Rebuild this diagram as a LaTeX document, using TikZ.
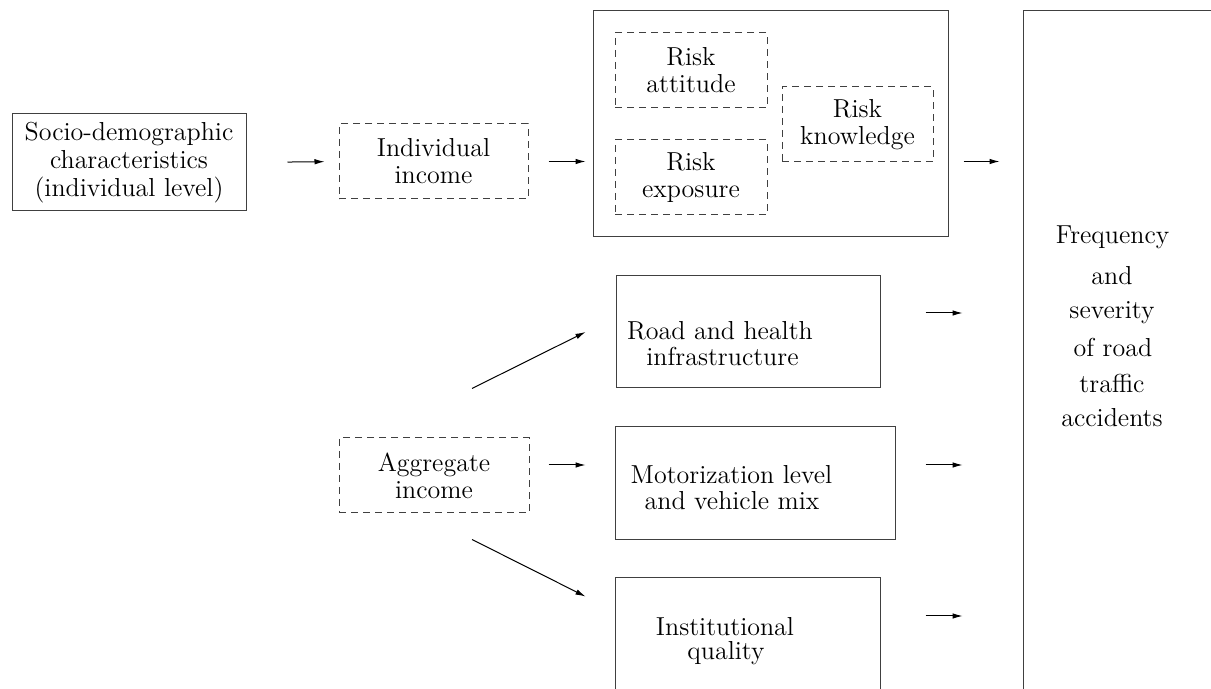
\documentclass[tikz,border=0pt]{standalone}
\usetikzlibrary{arrows.meta}
\begin{document}
\begin{tikzpicture}[x=0.5pt,y=-0.5pt,
  txt/.style={font=\fontsize{13}{13.5}\selectfont, inner sep=0pt, align=center},
  solidbox/.style={draw=black!75, line width=0.5pt, inner sep=0pt, align=center, font=\fontsize{13}{13.5}\selectfont},
  dashbox/.style={solidbox, dash pattern=on 3.5pt off 2.5pt},
  arr/.style={draw=black, line width=0.5pt, -{Latex[length=5pt,width=2.8pt]}},
  linet/.style={font=\fontsize{13}{13.5}\selectfont, inner sep=0pt, anchor=base}
]
\clip (0,0) rectangle (1211,689);
\fill[white] (0,0) rectangle (1211,689);

% left column
\node[solidbox, minimum width=117pt, minimum height=48.5pt, font=\fontsize{13}{14}\selectfont] (socio) at (129,162.5)
  {Socio-demographic\\characteristics\\(individual level)};
\node[dashbox, minimum width=94.5pt, minimum height=37.5pt] (indiv) at (433.5,161.5) {Individual\\income};
\node[dashbox, minimum width=95pt, minimum height=37.5pt] (agg) at (434,475.5) {Aggregate\\income};

% risk block
\node[solidbox, minimum width=177.5pt, minimum height=113pt] (bigbox) at (770.5,124) {};
\node[dashbox, minimum width=76pt, minimum height=37.5pt] (att) at (691,70.5) {Risk\\attitude};
\node[dashbox, minimum width=76pt, minimum height=37.5pt] (expo) at (691,177.5) {Risk\\exposure};
\node[dashbox, minimum width=75.5pt, minimum height=37.5pt] (know) at (857.5,124.5) {Risk\\knowledge};

% middle solid boxes
\node[solidbox, minimum width=132pt, minimum height=56pt] (road) at (748,332) {};
\node[solidbox, minimum width=140pt, minimum height=56.5pt] (mot) at (755,483.5) {};
\node[solidbox, minimum width=132.5pt, minimum height=61pt] (inst) at (747.5,639) {};

\node[linet] (roadt1) at (720,340) {Road and health};
\node[linet] (roadt2) at (722.5,366) {infrastructure};
\node[linet] (mott1) at (731.5,484) {Motorization level};
\node[linet] (mott2) at (732,510) {and vehicle mix};
\node[linet] (instt1) at (725,635) {Institutional};
\node[linet] (instt2) at (726,660) {quality};

% outcome box
\node[solidbox, minimum width=138.5pt, minimum height=369.5pt] (outbox) at (1161.5,380.5) {};
\node[linet] (f1) at (1112.5,244) {Frequency};
\node[linet] (f2) at (1112,285) {and};
\node[linet] (f3) at (1112,319) {severity};
\node[linet] (f4) at (1113,357) {of road};
\node[linet] (f5) at (1112,393) {traffic};
\node[linet] (f6) at (1112,427) {accidents};

% connectors
\draw[arr, shorten <=20.5pt, shorten >=7pt] (socio.east) -- (indiv.west);
\draw[arr, shorten <=10pt, shorten >=3.5pt] (indiv.east) -- (indiv.east -| bigbox.west);
\draw[arr, shorten <=7.5pt, shorten >=11.5pt] (bigbox.east |- indiv.east) -- (outbox.west |- indiv.east);

\draw[arr, shorten <=9.5pt, shorten >=14.5pt] ([yshift=5.25pt]agg.east) -- ([yshift=5.25pt]agg.east -| mot.west);
\draw[arr] ([xshift=19pt,yshift=24.5pt]agg.north) -- ([xshift=-15pt]road.west);
\draw[arr] ([xshift=19pt,yshift=-13pt]agg.south) -- ([xshift=-14.5pt,yshift=-9.5pt]inst.north west);

\draw[arr, shorten <=22.5pt, shorten >=30pt] ([yshift=9.5pt]road.east) -- ([yshift=9.5pt]road.east -| outbox.west);
\draw[arr, shorten <=15pt, shorten >=30pt] ([yshift=9.25pt]mot.east) -- ([yshift=9.25pt]mot.east -| outbox.west);
\draw[arr, shorten <=22.5pt, shorten >=30pt] ([yshift=11.5pt]inst.east) -- ([yshift=11.5pt]inst.east -| outbox.west);
\end{tikzpicture}
\end{document}
